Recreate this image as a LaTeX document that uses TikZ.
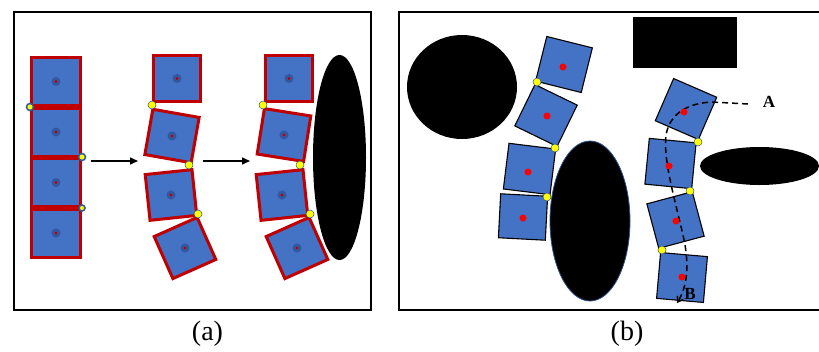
\documentclass[tikz,border=0pt]{standalone}
\usepackage{fontspec}
\setmainfont{Liberation Serif}
\usetikzlibrary{arrows.meta}
\definecolor{sqblue}{HTML}{4472C4}
\definecolor{sqred}{HTML}{C00000}
\definecolor{halo}{HTML}{34589F}
\definecolor{dotyel}{HTML}{FFFF00}
\definecolor{elline}{HTML}{2F528F}
\tikzset{
  sqa/.style={draw=sqred, line width=3pt, fill=sqblue, minimum width=47pt, minimum height=46pt, inner sep=0pt, outer sep=0pt},
  sqb/.style={draw=black, line width=1.1pt, fill=sqblue, minimum width=47pt, minimum height=46pt, inner sep=0pt, outer sep=0pt},
  hub/.style={circle, fill=sqred, draw=halo, line width=2.8pt, minimum size=6pt, inner sep=0pt},
  joint/.style={circle, fill=dotyel, draw=elline, line width=0.5pt, minimum size=8pt, inner sep=0pt},
  jointsm/.style={circle, fill=dotyel, draw=sqblue!80!black, line width=1.6pt, minimum size=7pt, inner sep=0pt},
  redpt/.style={circle, fill=red, minimum size=7pt, inner sep=0pt},
  frame/.style={draw=black, line width=2pt},
  flow/.style={line width=1.5pt, -{Triangle[length=8pt,width=7pt]}},
  trail/.style={line width=1.5pt, dash pattern=on 6pt off 4pt, -{Straight Barb[length=5pt,width=7pt]}},
  caption/.style={font=\fontsize{28}{32}\selectfont},
  tag/.style={font=\fontsize{17}{19}\selectfont\bfseries}
}
\begin{document}
\begin{tikzpicture}[x=1pt,y=-1pt]
\useasboundingbox (0,0) rectangle (819,351);
\fill[white] (0,0) rectangle (819,351);
\begin{scope}
\clip (0,0) rectangle (819,351);
% frames
\draw[frame] (14,11.5) rectangle (371,310);
\draw[frame] (399,11.5) rectangle (840,310);

% ---------------- panel (a) ----------------
% column 1
\node[sqa, minimum width=49pt, minimum height=48pt] (a1) at (56,81.5) {};
\node[sqa, minimum width=49pt, minimum height=48pt] (a2) at (56,132) {};
\node[sqa, minimum width=49pt, minimum height=48pt] (a3) at (56,182.5) {};
\node[sqa, minimum width=49pt, minimum height=48pt] (a4) at (56,233) {};
\foreach \n in {a1,a2,a3,a4} \node[hub] (h\n) at (\n) {};
\node[jointsm] (ja1) at (30,107) {};
\node[jointsm] (ja2) at (82,157) {};
\node[jointsm, minimum size=6pt] (ja3) at (82,208) {};

% column 2
\node[sqa] (b1) at (177,78.5) {};
\node[sqa, rotate=-10] (b2) at (172,136) {};
\node[sqa, rotate=6] (b3) at (171,195) {};
\node[sqa, rotate=24] (b4) at (185,248) {};
\foreach \n in {b1,b2,b3,b4} \node[hub] (h\n) at (\n) {};
\node[joint] (jb1) at (152,105) {};
\node[joint] (jb2) at (189,165) {};
\node[joint] (jb3) at (198,214) {};

% column 3 with obstacle
\fill[black] (339.5,157.5) ellipse [x radius=26.5, y radius=102.5];
\node[sqa] (c1) at (289,78.5) {};
\node[sqa, rotate=-9] (c2) at (284,135) {};
\node[sqa, rotate=6] (c3) at (282,195) {};
\node[sqa, rotate=24] (c4) at (297,248) {};
\foreach \n in {c1,c2,c3,c4} \node[hub] (h\n) at (\n) {};
\node[joint] (jc1) at (263,105) {};
\node[joint] (jc2) at (300,165) {};
\node[joint] (jc3) at (310,214) {};

% arrows
\coordinate (ar1s) at (91,161);
\coordinate (ar1e) at (138,161);
\coordinate (ar2s) at (203,161);
\coordinate (ar2e) at (250,161);
\draw[flow] (ar1s) -- (ar1e);
\draw[flow] (ar2s) -- (ar2e);

% ---------------- panel (b) ----------------
\fill[black] (462,87) ellipse [x radius=55, y radius=52];
\fill[black] (633,17) rectangle (737,68);
\filldraw[fill=black, draw=elline, line width=0.8pt] (590,221) ellipse [x radius=40, y radius=80];
\fill[black] (759.5,166) ellipse [x radius=59.5, y radius=19];

% left chain
\node[sqb, rotate=-14] (s1) at (564,64.5) {};
\node[sqb, rotate=-26] (s2) at (546,115.5) {};
\node[sqb, rotate=-7] (s3) at (529.5,169) {};
\node[sqb, rotate=-3, minimum height=44pt] (s4) at (523,217) {};
\node[redpt] (ps1) at (563,67) {};
\node[redpt] (ps2) at (547,116) {};
\node[redpt] (ps3) at (528,172) {};
\node[redpt] (ps4) at (523,218) {};
\node[joint] (js1) at (537,82) {};
\node[joint] (js2) at (555,148) {};
\node[joint] (js3) at (547,197) {};

% right chain
\node[sqb, rotate=-23.5] (r1) at (686,109) {};
\node[sqb, rotate=-5.5] (r2) at (670.5,163.5) {};
\node[sqb, rotate=15] (r3) at (675.5,220) {};
\node[sqb, rotate=-5] (r4) at (682,277.5) {};

% trajectory
\node[tag] (A) at (769,102) {A};
\node[tag] (B) at (690,294) {B};
\coordinate (tA) at (748,104);
\coordinate (tB) at (677,303);
\draw[trail] (tA) -- (712,102) .. controls (690,103) and (670,112) .. (666,135)
  .. controls (663,160) and (675,200) .. (683,235)
  .. controls (690,265) and (687,287) .. (tB);

\node[redpt] (pr1) at (684,112) {};
\node[redpt] (pr2) at (669,166) {};
\node[redpt] (pr3) at (676,221) {};
\node[redpt] (pr4) at (682,277) {};
\node[joint] (jr1) at (698,142) {};
\node[joint] (jr2) at (690,191) {};
\node[joint] (jr3) at (662,250) {};
\end{scope}

% captions
\node[caption] (capa) at (207.5,334) {(a)};
\node[caption] (capb) at (627,334) {(b)};
\end{tikzpicture}
\end{document}
